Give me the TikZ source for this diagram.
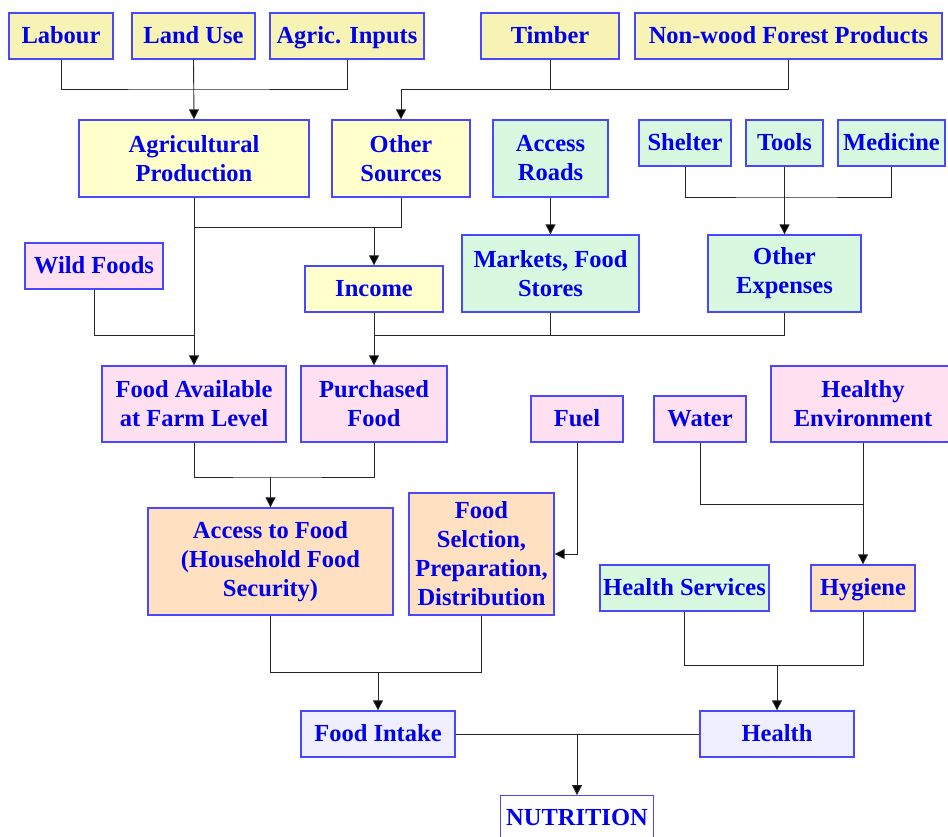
\documentclass[tikz,border=0pt]{standalone}
\usepackage{fontspec}
\setmainfont{Liberation Serif}
\usetikzlibrary{arrows.meta}
\definecolor{bordc}{RGB}{72,72,255}
\definecolor{txtc}{RGB}{0,0,235}
\definecolor{khaki}{RGB}{247,243,181}
\definecolor{ltyel}{RGB}{255,255,204}
\definecolor{ltgrn}{RGB}{216,248,224}
\definecolor{ltpink}{RGB}{255,224,240}
\definecolor{peach}{RGB}{255,224,192}
\definecolor{lavend}{RGB}{239,239,255}
\tikzset{
  box/.style={draw=bordc, line width=1.3pt, inner sep=0pt, align=center,
    text=txtc, font=\fontsize{24.5}{29}\selectfont\bfseries},
  one/.style={text height=19pt, text depth=5pt},
  conn/.style={draw=black!85, line width=0.9pt},
  arr/.style={conn, -{Triangle[width=10pt,length=10pt,fill=black]}}
}
\begin{document}
\begin{tikzpicture}[x=1pt,y=-1pt]
\useasboundingbox (0,0) rectangle (948,836);
% top row
\node[box, one, fill=khaki, minimum width=104, minimum height=46] (labour) at (61,36) {Labour};
\node[box, one, fill=khaki, minimum width=123, minimum height=46] (landuse) at (193.5,36) {Land Use};
\node[box, one, fill=khaki, minimum width=154, minimum height=46] (inputs) at (347,36) {Agric. Inputs};
\node[box, one, fill=khaki, minimum width=138, minimum height=46] (timber) at (550,36) {Timber};
\node[box, one, fill=khaki, minimum width=307, minimum height=46] (nwfp) at (788.5,36) {Non-wood Forest Products};
% second row
\node[box, fill=ltyel, minimum width=230, minimum height=77] (agprod) at (194,158.5) {Agricultural\\Production};
\node[box, fill=ltyel, minimum width=138, minimum height=77] (othersrc) at (401,158.5) {Other\\Sources};
\node[box, fill=ltgrn, minimum width=115, minimum height=77] (roads) at (550.5,158.5) {Access\\Roads};
\node[box, one, fill=ltgrn, minimum width=92, minimum height=46] (shelter) at (685,143) {Shelter};
\node[box, one, fill=ltgrn, minimum width=77, minimum height=46] (tools) at (784.5,143) {Tools};
\node[box, one, fill=ltgrn, minimum width=107, minimum height=46] (medicine) at (891.5,143) {Medicine};
% third row
\node[box, one, fill=ltpink, minimum width=138, minimum height=46] (wild) at (94,266) {Wild Foods};
\node[box, one, fill=ltyel, minimum width=138, minimum height=46] (income) at (374,289) {Income};
\node[box, fill=ltgrn, minimum width=177, minimum height=77] (markets) at (550.5,273.5) {Markets, Food\\Stores};
\node[box, fill=ltgrn, minimum width=153, minimum height=77] (otherexp) at (784.5,273.5) {Other\\Expenses};
% fourth row
\node[box, fill=ltpink, minimum width=184, minimum height=76] (foodavail) at (194,404) {Food Available\\at Farm Level};
\node[box, fill=ltpink, minimum width=146, minimum height=76] (purchased) at (374,404) {Purchased\\Food};
\node[box, one, fill=ltpink, minimum width=92, minimum height=46] (fuel) at (577,419) {Fuel};
\node[box, one, fill=ltpink, minimum width=92, minimum height=46] (water) at (700,419) {Water};
\node[box, fill=ltpink, minimum width=184, minimum height=76] (healthyenv) at (863,404) {Healthy\\Environment};
% fifth row
\node[box, fill=peach, minimum width=245, minimum height=107] (access) at (270.5,561.5) {Access to Food\\(Household Food\\Security)};
\node[box, fill=peach, minimum width=145, minimum height=122] (foodsel) at (481.5,554) {Food\\Selction,\\Preparation,\\Distribution};
\node[box, one, fill=ltgrn, minimum width=169, minimum height=46] (hs) at (684.5,588) {Health Services};
\node[box, one, fill=peach, minimum width=104, minimum height=46] (hygiene) at (863,588) {Hygiene};
% bottom
\node[box, one, fill=lavend, minimum width=154, minimum height=46] (intake) at (378,734) {Food Intake};
\node[box, one, fill=lavend, minimum width=154, minimum height=46] (health) at (777,734) {Health};
\node[box, one, fill=white, minimum width=153, minimum height=46] (nutrition) at (577,818.7) {NUTRITION};
% junction coordinates
\coordinate (jA) at (193.5,89);
\coordinate (jB) at (401,89);
\coordinate (jC) at (784.5,197);
\coordinate (jD) at (374,227);
\coordinate (jE) at (194,335);
\coordinate (jF) at (374,335);
\coordinate (jG) at (270.5,477);
\coordinate (jH) at (863,504);
\coordinate (jI) at (378,672);
\coordinate (jJ) at (777,665);
\coordinate (jK) at (577,734);
% connectors
\draw[conn] (labour.south) |- (jA) -| (inputs.south);
\draw[arr] (landuse.south) -- (agprod.north);
\draw[conn] (nwfp.south) |- (jB);
\draw[conn] (timber.south) -- (timber.south |- jB);
\draw[arr] (jB) -- (othersrc.north);
\draw[conn] (shelter.south) |- (jC) -| (medicine.south);
\draw[arr] (tools.south) -- (otherexp.north);
\draw[arr] (roads.south) -- (markets.north);
\draw[conn] (othersrc.south) |- (agprod.south |- jD);
\draw[arr] (jD) -- (income.north);
\draw[arr] (agprod.south) -- (foodavail.north);
\draw[conn] (wild.south) |- (jE);
\draw[arr] (income.south) -- (purchased.north);
\draw[conn] (otherexp.south) |- (jF);
\draw[conn] (markets.south) -- (markets.south |- jF);
\draw[conn] (foodavail.south) |- (jG) -| (purchased.south);
\draw[arr] (jG) -- (access.north);
\draw[arr] (fuel.south) |- (foodsel.east);
\draw[conn] (water.south) |- (jH);
\draw[arr] (healthyenv.south) -- (hygiene.north);
\draw[conn] (access.south) |- (jI) -| (foodsel.south);
\draw[arr] (jI) -- (intake.north);
\draw[conn] (hs.south) |- (jJ) -| (hygiene.south);
\draw[arr] (jJ) -- (health.north);
\draw[conn] (intake.east) -- (health.west);
\draw[arr] (jK) -- (nutrition.north);
\end{tikzpicture}
\end{document}
